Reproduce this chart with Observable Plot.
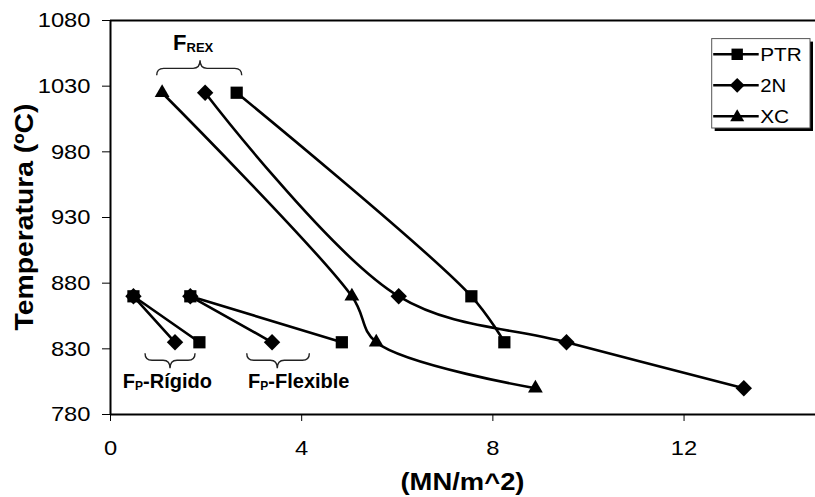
<!DOCTYPE html>
<html><head><meta charset="utf-8">
<script src="https://cdn.jsdelivr.net/npm/d3@7"></script>
<script src="https://cdn.jsdelivr.net/npm/@observablehq/plot@0.6"></script>
<style>
html,body{margin:0;padding:0;background:#fff;}
#chart{width:815px;height:497px;}
</style></head><body><div id="chart"></div>
<script>
// ---------- data ----------
const seriesNames = ["PTR", "2N", "XC"];
const seriesSymbols = ["square", "diamond2", "triangle"];

// F_REX group (upper, smoothed curves)
const ptrRexX = [2.64, 7.55, 8.24];
const ptrRexY = [1025, 870, 835];
const n2RexX = [1.98, 6.03, 9.54, 13.25];
const n2RexY = [1025, 870, 835, 800];
const xcRexX = [1.08, 5.05, 5.56, 8.89];
const xcRexY = [1025, 870, 835, 800];

// F_P flexible group
const ptrFlexX = [1.67, 4.84];
const ptrFlexY = [870, 835];
const n2FlexX = [1.67, 3.38];
const n2FlexY = [870, 835];

// F_P rigid group
const ptrRigX = [0.48, 1.86];
const ptrRigY = [870, 835];
const n2RigX = [0.48, 1.35];
const n2RigY = [870, 835];

const xTicks = [0, 4, 8, 12];
const yTicks = [780, 830, 880, 930, 980, 1030, 1080];
const xDomain = [0, 14.75];
const yDomain = [780, 1080];
const xTitle = "(MN/m^2)";
const yTitle = "Temperatura (ºC)";

// annotation braces (data coordinates)
const braceX1 = [0.977, 0.733, 2.861];
const braceX2 = [2.756, 1.779, 4.171];
const braceXm = [1.884, 1.256, 3.50];
const braceY = [1043.2, 820.9, 820.9];
const braceDir = [-1, 1, 1];
// annotation labels
const labelMain = ["F", "F", "F"];
const labelSub = ["REX", "P", "P"];
const labelRest = ["", "-Rígido", "-Flexible"];
const labelX = [1.74, 1.20, 3.95];
const labelY = [1057.5, 800, 800];

// ---------- build table ----------
function rows(series, group, xs, ys) {
  return xs.map((x, i) => ({series, group, x, y: ys[i]}));
}
const data = [
  ...rows("PTR", "rex", ptrRexX, ptrRexY),
  ...rows("PTR", "flex", ptrFlexX, ptrFlexY),
  ...rows("PTR", "rig", ptrRigX, ptrRigY),
  ...rows("2N", "rex", n2RexX, n2RexY),
  ...rows("2N", "flex", n2FlexX, n2FlexY),
  ...rows("2N", "rig", n2RigX, n2RigY),
  ...rows("XC", "rex", xcRexX, xcRexY)
];

const symR = {"PTR": 6.9, "2N": 7.4, "XC": 5.5};
const FONT = "Liberation Sans, Arial, Helvetica, sans-serif";

function overlay(index, scales, values, dims) {
  const x = scales.x, y = scales.y;
  const g = d3.create("svg:g").attr("font-family", FONT).attr("fill", "black").attr("text-anchor", "start");
  // braces
  for (let i = 0; i < braceX1.length; i++) {
    const x1 = x(braceX1[i]), x2 = x(braceX2[i]), xm = x(braceXm[i]), y0 = y(braceY[i]), d = braceDir[i];
    const e = 7, t = 8;
    const p = `M${x1},${y0 - d*e} Q${x1},${y0} ${x1+7},${y0} L${xm-7},${y0} Q${xm},${y0} ${xm},${y0 + d*t} Q${xm},${y0} ${xm+7},${y0} L${x2-7},${y0} Q${x2},${y0} ${x2},${y0 - d*e}`;
    g.append("path").attr("d", p).attr("fill", "none").attr("stroke", "#222").attr("stroke-width", 1.4);
  }
  // labels
  for (let i = 0; i < labelMain.length; i++) {
    const big = i === 0;
    const t = g.append("text").attr("x", x(labelX[i])).attr("y", y(labelY[i]))
      .attr("text-anchor", "middle").attr("font-weight", "bold")
      .attr("font-size", big ? 22 : 20);
    t.append("tspan").text(labelMain[i]);
    t.append("tspan").attr("font-size", big ? 13 : 12).attr("dy", 2).text(labelSub[i]);
    if (labelRest[i]) t.append("tspan").attr("dy", -2).text(labelRest[i]);
  }
  // axis titles
  const fx = (dims.marginLeft + dims.width - dims.marginRight) / 2;
  const fy = (dims.marginTop + dims.height - dims.marginBottom) / 2;
  g.append("text").attr("x", fx).attr("y", 490).attr("text-anchor", "middle")
    .attr("font-weight", "bold").attr("font-size", 24)
    .attr("textLength", 124).attr("lengthAdjust", "spacingAndGlyphs").text(xTitle);
  g.append("text").attr("transform", `translate(33,${fy}) rotate(-90)`).attr("text-anchor", "middle")
    .attr("font-weight", "bold").attr("font-size", 25)
    .attr("textLength", 227).attr("lengthAdjust", "spacingAndGlyphs").text(yTitle);
  // legend
  const bx = dims.width - 103.3, by = dims.marginTop + 18.6, bw = 98.3, bh = 89.4;
  g.append("rect").attr("x", bx + 3).attr("y", by + 3).attr("width", bw).attr("height", bh).attr("fill", "black");
  g.append("rect").attr("x", bx).attr("y", by).attr("width", bw).attr("height", bh)
    .attr("fill", "white").attr("stroke", "#555").attr("stroke-width", 1);
  const rowY = [15.7, 46.7, 77.7];
  const legSize = {"PTR": 130, "2N": 140, "XC": 85};
  const symMap = {"square": d3.symbolSquare, "diamond2": d3.symbolDiamond2, "triangle": d3.symbolTriangle};
  const txtLen = {"PTR": 41.5, "2N": 26, "XC": 29};
  seriesNames.forEach((s, i) => {
    const cy = by + rowY[i];
    g.append("line").attr("x1", bx + 1.5).attr("x2", bx + 47).attr("y1", cy).attr("y2", cy)
      .attr("stroke", "black").attr("stroke-width", 2.5);
    g.append("path").attr("d", d3.symbol(symMap[seriesSymbols[i]], legSize[s])())
      .attr("transform", `translate(${bx + 25.5},${cy + (s === "XC" ? 1 : 0)})`).attr("fill", "black");
    g.append("text").attr("x", bx + 48.5).attr("y", cy + 7).attr("font-size", 19)
      .attr("textLength", txtLen[s]).attr("lengthAdjust", "spacingAndGlyphs").text(s);
  });
  return g.node();
}

const marks = [
  Plot.ruleY([yDomain[1]], {stroke: "black", strokeWidth: 2}),
  Plot.ruleY([yDomain[0]], {stroke: "black", strokeWidth: 2}),
  Plot.ruleX([0], {stroke: "black", strokeWidth: 2}),
  Plot.line(data, {x: "x", y: "y", z: d => d.series + "-" + d.group, curve: "catmull-rom",
    stroke: "black", strokeWidth: 2.6}),
  ...seriesNames.map((s, i) => Plot.dot(data.filter(d => d.series === s), {
    x: "x", y: "y", symbol: () => seriesSymbols[i], r: symR[s], fill: "black", stroke: "none"
  })),
  overlay
];

const chart = Plot.plot({
  width: 815,
  height: 497,
  marginLeft: 110,
  marginRight: 0,
  marginTop: 20,
  marginBottom: 83,
  style: {fontFamily: FONT, fontSize: "21px", color: "black", background: "white"},
  x: {domain: xDomain, ticks: xTicks, tickSize: 7, tickPadding: 19, label: null, tickFormat: d => String(d)},
  y: {domain: yDomain, ticks: yTicks, tickSize: 8, tickPadding: 12, label: null, tickFormat: d => String(d)},
  symbol: {type: "identity"},
  marks
});
document.getElementById("chart").appendChild(chart);
// widen tick labels slightly to match the reference's wide glyphs
chart.querySelectorAll('g[aria-label$="tick label"] text').forEach(t => {
  const L = t.getComputedTextLength();
  t.setAttribute("textLength", (L * 1.13).toFixed(1));
  t.setAttribute("lengthAdjust", "spacingAndGlyphs");
});
</script>
</body></html>
